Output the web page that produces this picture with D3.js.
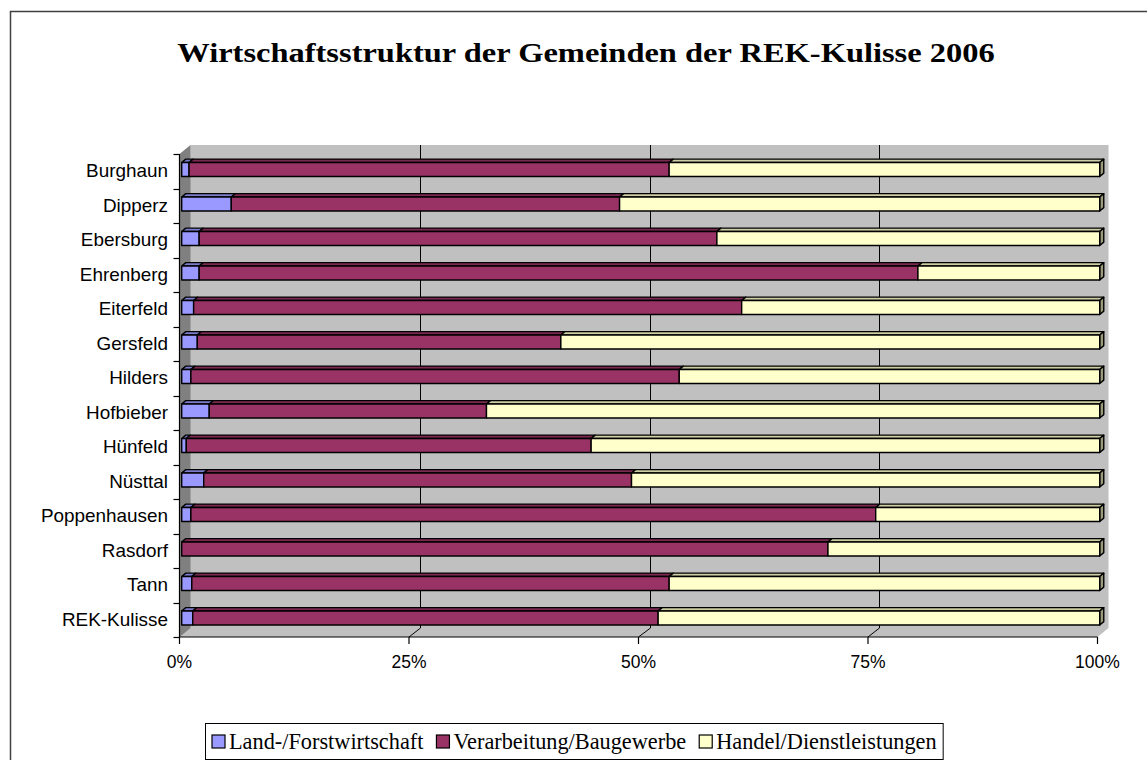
<!DOCTYPE html>
<html>
<head>
<meta charset="utf-8">
<script src="https://cdn.jsdelivr.net/npm/d3@7"></script>
<style>
  body { margin: 0; background: #fff; }
  svg { display: block; }
  .catLabel, .tickLabel { font-family: Arial, "Liberation Sans", sans-serif; font-size: 17.5px; fill: #000; }
  .chartTitle { font-family: "Times New Roman", "Liberation Serif", serif; font-weight: bold; font-size: 28px; fill: #000; }
  .legendText { font-family: "Times New Roman", "Liberation Serif", serif; font-size: 22.3px; fill: #000; }
</style>
</head>
<body>
<div id="chart"></div>
<script>
const categories = ['Burghaun', 'Dipperz', 'Ebersburg', 'Ehrenberg', 'Eiterfeld', 'Gersfeld', 'Hilders',
    'Hofbieber', 'Hünfeld', 'Nüsttal', 'Poppenhausen', 'Rasdorf', 'Tann', 'REK-Kulisse'];
const landForst = [0.8, 5.4, 1.9, 1.9, 1.3, 1.7, 1.0, 3.0, 0.5, 2.4, 1.0, 0.0, 1.1, 1.2];
const verarbeitung = [52.3, 42.3, 56.4, 78.3, 59.7, 39.6, 53.2, 30.2, 44.1, 46.6, 74.6, 70.4, 52.0, 50.7];
const handel = [46.9, 52.3, 41.7, 19.8, 39.0, 58.7, 45.8, 66.8, 55.4, 51.0, 24.4, 29.6, 46.9, 48.1];
const seriesNames = ['Land-/Forstwirtschaft', 'Verarbeitung/Baugewerbe', 'Handel/Dienstleistungen'];
const tickValues = [0, 25, 50, 75, 100];
const titleText = 'Wirtschaftsstruktur der Gemeinden der REK-Kulisse 2006';

const colors = ['#9999FF', '#993366', '#FFFFCC'];
const width = 1147, height = 760;

// 3D depth of the plot box and the bars inside it
const depthX = 11, depthY = -9;
const barFront = 0.2, barBack = 0.57;

const svg = d3.select('#chart').append('svg')
    .attr('width', width)
    .attr('height', height);

// outer chart border (runs off the page right and bottom)
svg.append('rect')
    .attr('x', 10.5).attr('y', 11.5)
    .attr('width', 1300).attr('height', 800)
    .attr('fill', 'none')
    .attr('stroke', '#404040')
    .attr('stroke-width', 1.5);

svg.append('text')
    .attr('class', 'chartTitle')
    .attr('transform', 'translate(586,62) scale(1.16,1)')
    .attr('text-anchor', 'middle')
    .text(titleText);

const xScale = d3.scaleLinear().domain([0, 100]).range([179.5, 1097.5]);
const yScale = d3.scaleBand().domain(categories).range([154, 637]).padding(0);

const x0 = xScale(0), x1 = xScale(100);
const yTop = yScale.range()[0], yBot = yScale.range()[1];

const poly = pts => pts.map(p => p.join(',')).join(' ');

// walls and floor
svg.append('polygon')
    .attr('points', poly([[x0 + depthX, yTop + depthY], [x1 + depthX, yTop + depthY],
        [x1 + depthX, yBot + depthY], [x1, yBot], [x0, yBot]]))
    .attr('fill', '#C0C0C0');
svg.append('polygon')
    .attr('points', poly([[x0, yTop], [x0 + depthX, yTop + depthY], [x0 + depthX, yBot + depthY], [x0, yBot]]))
    .attr('fill', '#808080');

// gridlines on back wall + floor
const grid = svg.append('g').attr('stroke', '#000').attr('stroke-width', 1);
tickValues.filter(v => v > 0 && v < 100).forEach(v => {
    const gx = Math.round(xScale(v) + depthX) + 0.5;
    grid.append('line')
        .attr('x1', gx).attr('x2', gx)
        .attr('y1', yTop + depthY).attr('y2', yBot + depthY);
    grid.append('line')
        .attr('x1', gx).attr('y1', yBot + depthY)
        .attr('x2', xScale(v)).attr('y2', yBot);
});

// axes
const axes = svg.append('g').attr('stroke', '#000').attr('stroke-width', 1.2);
axes.append('line').attr('x1', x0).attr('x2', x0).attr('y1', yTop).attr('y2', yBot);
axes.append('line').attr('x1', x0).attr('x2', x1).attr('y1', yBot).attr('y2', yBot);
categories.concat(['__end']).forEach((c, i) => {
    const ty = Math.round(yTop + i * yScale.step()) + 0.5;
    axes.append('line').attr('x1', x0 - 6).attr('x2', x0).attr('y1', ty).attr('y2', ty);
});
tickValues.forEach(v => {
    axes.append('line')
        .attr('x1', xScale(v)).attr('x2', xScale(v))
        .attr('y1', yBot).attr('y2', yBot + 7);
});

svg.selectAll('.tickLabel')
    .data(tickValues)
    .enter().append('text')
    .attr('class', 'tickLabel')
    .attr('x', d => xScale(d))
    .attr('y', 668)
    .attr('text-anchor', 'middle')
    .text(d => d + '%');

svg.selectAll('.catLabel')
    .data(categories)
    .enter().append('text')
    .attr('class', 'catLabel')
    .attr('text-anchor', 'end')
    .attr('transform', d => `translate(168,${yScale(d) + yScale.bandwidth() / 2 + 6}) scale(1.08,1)`)
    .text(d => d);

// stacked 3D bars
const rows = categories.map((c, i) => ({ name: c, values: [landForst[i], verarbeitung[i], handel[i]] }));
const fx = barFront * depthX, fy = barFront * depthY;
const bx = (barBack - barFront) * depthX, by = (barBack - barFront) * depthY;
const barH = 14;

const barGroup = svg.append('g')
    .attr('stroke', '#000')
    .attr('stroke-width', 1.4)
    .attr('stroke-linejoin', 'round');

rows.forEach(row => {
    const cy = yScale(row.name) + yScale.bandwidth() / 2 + fy;
    const top = cy - barH / 2, bot = cy + barH / 2;
    let acc = 0;
    const segs = row.values.map((v, k) => {
        const s = { k, a: xScale(acc) + fx, b: xScale(acc + v) + fx, v };
        acc += v;
        return s;
    }).filter(s => s.v > 0);
    segs.forEach((s, j) => {
        const c = d3.color(colors[s.k]);
        barGroup.append('polygon')
            .attr('points', poly([[s.a, top], [s.b, top], [s.b + bx, top + by], [s.a + bx, top + by]]))
            .attr('fill', c.darker(0.6));
        if (j === segs.length - 1) {
            barGroup.append('polygon')
                .attr('points', poly([[s.b, top], [s.b + bx, top + by], [s.b + bx, bot + by], [s.b, bot]]))
                .attr('fill', c.darker(1.4));
        }
        barGroup.append('rect')
            .attr('x', s.a).attr('y', top)
            .attr('width', s.b - s.a).attr('height', barH)
            .attr('fill', colors[s.k]);
    });
});

// legend
const legend = svg.append('g').attr('transform', 'translate(205,723)');
const legendBox = legend.append('rect')
    .attr('x', 0.5).attr('y', 0.5)
    .attr('height', 36)
    .attr('fill', '#fff')
    .attr('stroke', '#000')
    .attr('stroke-width', 1);
let lx = 7;
seriesNames.forEach((name, i) => {
    legend.append('rect')
        .attr('x', lx).attr('y', 12)
        .attr('width', 13).attr('height', 13)
        .attr('fill', colors[i])
        .attr('stroke', '#000')
        .attr('stroke-width', 1.2);
    const t = legend.append('text')
        .attr('class', 'legendText')
        .attr('x', lx + 17).attr('y', 26)
        .text(name);
    lx += 17 + t.node().getComputedTextLength() + 13;
});
legendBox.attr('width', lx - 7);
</script>
</body>
</html>
